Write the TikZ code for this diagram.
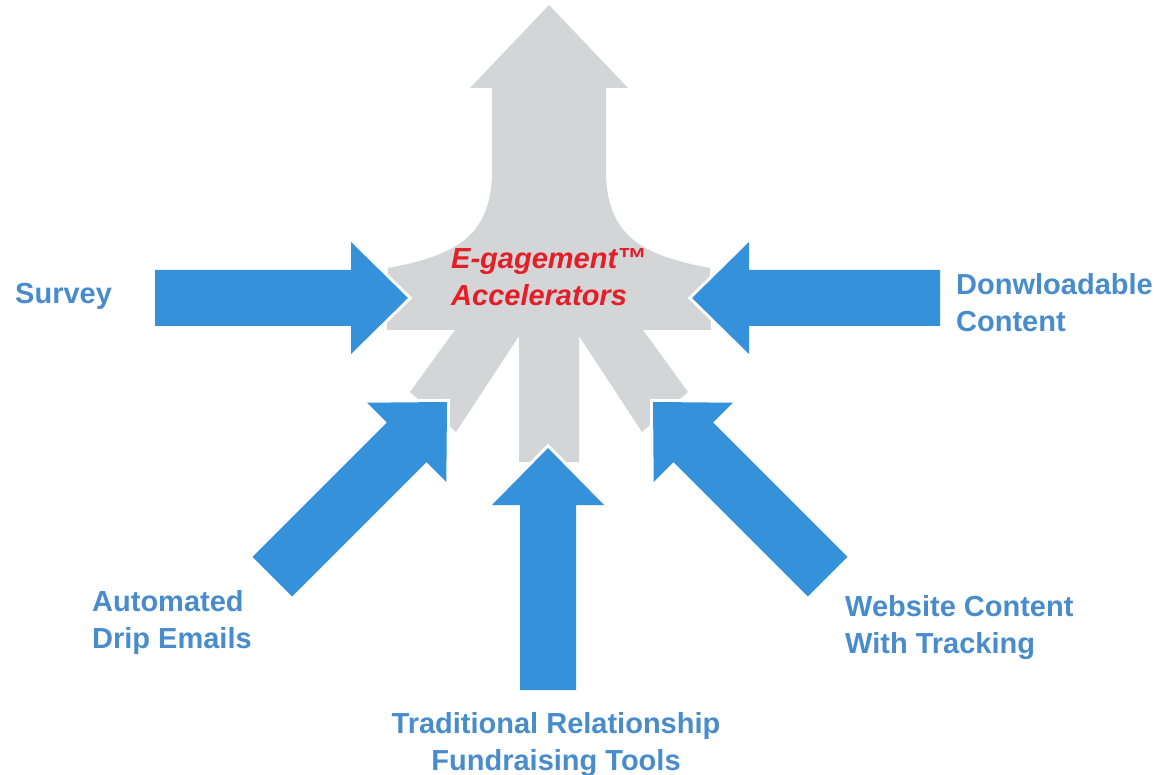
\documentclass[tikz,border=0pt]{standalone}
\usepackage{fontspec}
\setmainfont{Liberation Sans}
\definecolor{feedblue}{RGB}{53,146,218}
\definecolor{labelblue}{RGB}{72,140,204}
\definecolor{funnelgray}{RGB}{211,213,215}
\definecolor{accelred}{RGB}{228,30,38}
\tikzset{
  pics/feeder/.style args={#1/#2}{% #1=length, #2=angle
    code = {
      \fill [feedblue, preaction={draw=white, line width=6}, rotate=#2] (0, 0) -- (-57, 56) -- (-57, 28) -- (-#1, 28) -- (-#1, -28) -- (-57, -28) -- (-57, -56) -- cycle;
}}}
\tikzset{
  source/.style={text=labelblue, font=\bfseries\fontsize{29}{37}\selectfont, inner sep=0, align=left},
  engine/.style={text=accelred, font=\bfseries\itshape\fontsize{29}{37}\selectfont, inner sep=0, align=left}
}

\begin{document}
\begin{tikzpicture}[x=1pt, y=-1pt]
  \useasboundingbox (0, 0) rectangle (1169, 775);
  % funnel
  \fill [funnelgray] (549, 5) -- (628, 88) -- (606, 88) -- (606, 175)
    .. controls (608, 238) and (645, 256) .. (710, 268) -- (711, 330) -- (643, 330)
    -- (688, 392) -- (642, 432) -- (579, 336) -- (579, 462) -- (519, 462) -- (519, 336)
    -- (456, 432) -- (410, 392) -- (455, 330) -- (387, 330) -- (388, 268)
    .. controls (453, 256) and (490, 238) .. (492, 175) -- (492, 88) -- (470, 88) -- cycle;

  \coordinate (survey-tip) at (408, 298);
  \coordinate (download-tip) at (692, 298);
  \coordinate (drip-tip) at (447, 402);
  \coordinate (website-tip) at (653, 402);
  \coordinate (traditional-tip) at (548, 448);
  \pic at (survey-tip) {feeder={253/0}};
  \pic at (download-tip) {feeder={248/180}};
  \pic at (drip-tip) {feeder={247/45}};
  \pic at (website-tip) {feeder={247/135}};
  \pic at (traditional-tip) {feeder={242/90}};

  \node [engine, anchor=north west] (engine) at (451, 248) {E-gagement™\\Accelerators};
  \node [source, anchor=north west] (survey) at (15, 283) {Survey};
  \node [source, anchor=north west] (download) at (956, 273) {Donwloadable\\Content};
  \node [source, anchor=north west] (drip) at (92, 590) {Automated\\Drip Emails};
  \node [source, anchor=north west] (website) at (845, 595) {Website Content\\With Tracking};
  \node [source, anchor=north, align=center] (traditional) at (556, 712) {Traditional Relationship\\Fundraising Tools};
\end{tikzpicture}
\end{document}
